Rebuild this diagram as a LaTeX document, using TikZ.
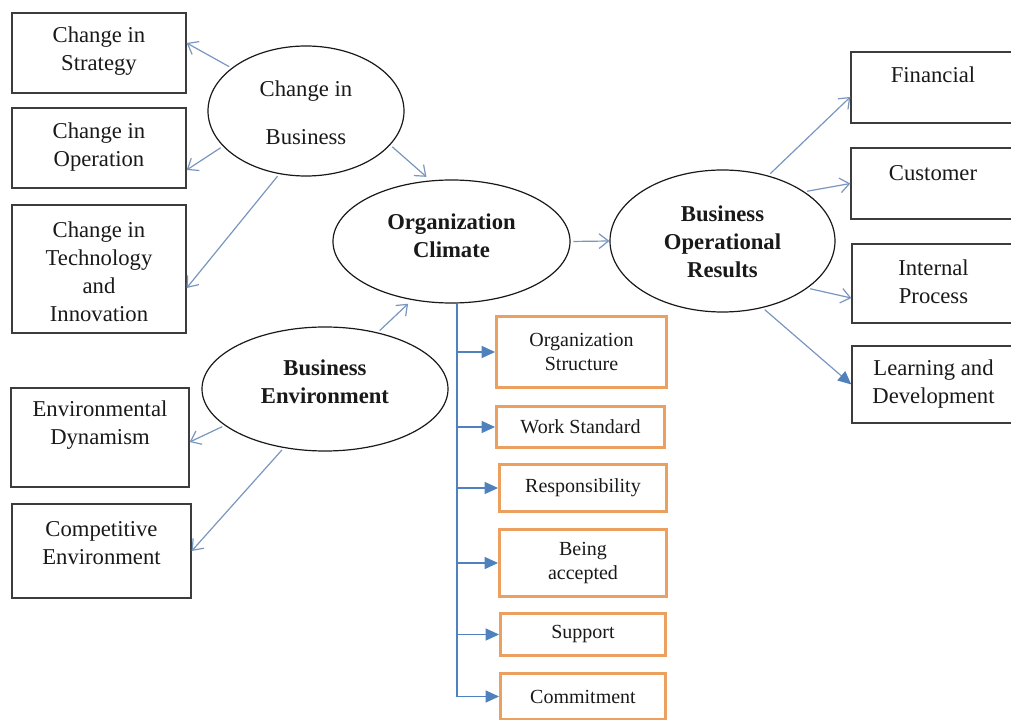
\documentclass[tikz,border=0pt]{standalone}
\usepackage{fontspec}
\setmainfont{Liberation Serif}
\usetikzlibrary{arrows.meta,shapes.geometric}
\definecolor{lineblue}{RGB}{120,150,190}
\definecolor{darkblue}{RGB}{79,129,189}
\definecolor{boxorange}{RGB}{236,160,95}
\definecolor{ink}{RGB}{25,25,25}
\begin{document}
\begin{tikzpicture}[x=0.75pt,y=-0.75pt,
  bigtext/.style={font=\fontsize{17pt}{21pt}\selectfont, text=ink, align=center, inner sep=0pt},
  boldtext/.style={bigtext, font=\fontsize{17pt}{21pt}\selectfont\bfseries},
  smalltext/.style={font=\fontsize{15pt}{17.5pt}\selectfont, text=ink, align=center},
  blackbox/.style={draw=ink!85, line width=1pt, rectangle, inner sep=0pt},
  orangebox/.style={draw=boxorange, line width=2.2pt, rectangle, inner sep=0pt, smalltext},
  oval/.style={draw=ink, line width=0.9pt, ellipse, inner sep=0pt},
  openarrow/.style={draw=lineblue, line width=0.9pt, shorten <=2pt, -{Straight Barb[length=7pt,width=11pt]}},
  fillarrow/.style={draw=darkblue, line width=0.9pt, -{Triangle[length=10pt,width=9pt,color=darkblue]}},
]
\path[use as bounding box] (0,0) rectangle (1011,720);

% left boxes
\node[blackbox, minimum width=130.5pt, minimum height=60pt] (strat) at (99,53) {};
\node[bigtext] (strat-t) at (99,51.5) {Change in\\Strategy};
\node[blackbox, minimum width=130.5pt, minimum height=60pt] (oper) at (99,148) {};
\node[bigtext] (oper-t) at (99,147) {Change in\\Operation};
\node[blackbox, minimum width=130.5pt, minimum height=96pt] (tech) at (99,269) {};
\node[bigtext] (tech-t) at (99,272) {Change in\\Technology\\and\\Innovation};
\node[blackbox, minimum width=133.5pt, minimum height=74.25pt] (envd) at (100,437.5) {};
\node[bigtext] (envd-t) at (100,425.5) {Environmental\\Dynamism};
\node[blackbox, minimum width=134.25pt, minimum height=70.5pt] (comp) at (101.5,551) {};
\node[bigtext] (comp-t) at (101.5,543.5) {Competitive\\Environment};

% right boxes
\node[blackbox, minimum width=123pt, minimum height=53.25pt] (fin) at (933,87.5) {};
\node[bigtext] (fin-t) at (933,75) {Financial};
\node[blackbox, minimum width=123pt, minimum height=53.25pt] (cust) at (933,183.5) {};
\node[bigtext] (cust-t) at (933,173) {Customer};
\node[blackbox, minimum width=122.25pt, minimum height=59.25pt] (intp) at (933.5,283.5) {};
\node[bigtext] (intp-t) at (933.5,281.5) {Internal\\Process};
\node[blackbox, minimum width=122.25pt, minimum height=57.75pt] (lnd) at (933.5,384.5) {};
\node[bigtext] (lnd-t) at (933.5,384.5) {Learning and\\Development};

% ellipses
\node[oval, minimum width=147pt, minimum height=97.5pt] (cib) at (306,111) {};
\node[bigtext] (cib-t) at (306,113) {Change in\\[15pt]Business};
\node[oval, minimum width=177.75pt, minimum height=92.25pt] (oc) at (451.5,241.5) {};
\node[boldtext] (oc-t) at (451.5,236) {Organization\\Climate};
\node[oval, minimum width=184.5pt, minimum height=93pt] (be) at (325,389) {};
\node[boldtext] (be-t) at (325,381.5) {Business\\Environment};
\node[oval, minimum width=168.75pt, minimum height=106.5pt] (bor) at (722.5,241) {};
\node[boldtext] (bor-t) at (722.5,242) {Business\\Operational\\Results};

% orange boxes
\node[orangebox, minimum width=127.5pt, minimum height=53.25pt] (os) at (581.5,352) {Organization\\Structure};
\node[orangebox, minimum width=126pt, minimum height=30.75pt] (ws) at (580.5,427) {Work Standard};
\node[orangebox, minimum width=125.25pt, minimum height=35.25pt] (resp) at (583,488) {Responsibility};
\node[orangebox, minimum width=125.25pt, minimum height=50.25pt] (ba) at (583,563) {Being\\accepted};
\node[orangebox, minimum width=123.75pt, minimum height=31.5pt] (sup) at (583,634.5) {Support};
\node[orangebox, minimum width=123.75pt, minimum height=34.5pt] (com) at (583,696.5) {Commitment};

% connectors
\draw[openarrow] (cib.150) -- ([yshift=7.5pt]strat.east);
\draw[openarrow] (cib.203) -- ([yshift=-16.5pt]oper.east);
\draw[openarrow] (cib.247) -- ([yshift=-14.25pt]tech.east);
\draw[openarrow, shorten >=4pt] (cib.338) -- (oc.109);
\draw[openarrow, shorten >=4pt] (be.47) -- (oc.236);
\draw[openarrow] (be.200) -- ([yshift=-3.4pt]envd.east);
\draw[openarrow] (be.235) -- (comp.east);
\draw[openarrow] (oc.east) -- (bor.west);
\draw[openarrow] (bor.55) -- ([yshift=-7.1pt]fin.west);
\draw[openarrow] (bor.31) -- (cust.west);
\draw[openarrow] (bor.331) -- ([yshift=-10.9pt]intp.west);
\draw[fillarrow, draw=lineblue, shorten <=2pt] (bor.301) -- (lnd.west);

% trunk
\coordinate (t0) at (457,304);
\draw[fillarrow] (t0) |- (com.west);
\foreach \n in {os,ws,resp,ba,sup} \draw[fillarrow] (t0 |- \n.west) -- (\n.west);
\end{tikzpicture}
\end{document}
